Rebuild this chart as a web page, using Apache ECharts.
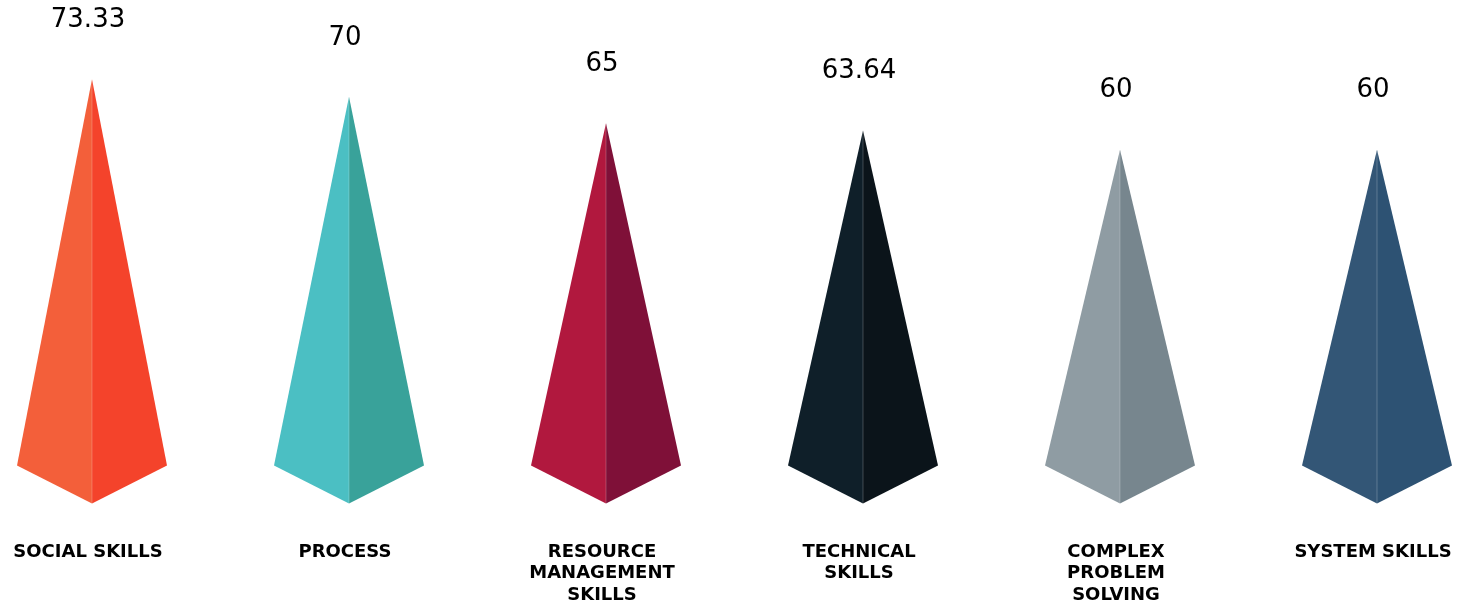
<!DOCTYPE html>
<html>
<head>
<meta charset="utf-8">
<title>Skills</title>
<script src="https://cdn.jsdelivr.net/npm/echarts@6/dist/echarts.min.js"></script>
<style>
  html, body { margin: 0; padding: 0; background: #ffffff; }
  #chart { width: 1475px; height: 606px; }
</style>
</head>
<body>
<div id="chart"></div>
<script>
// Category names as shown under each pyramid (line breaks where the label wraps)
const categories = [
  'SOCIAL SKILLS',
  'PROCESS',
  'RESOURCE\nMANAGEMENT\nSKILLS',
  'TECHNICAL\nSKILLS',
  'COMPLEX\nPROBLEM\nSOLVING',
  'SYSTEM SKILLS'
];

// Score per category
const values = [73.33, 70, 65, 63.64, 60, 60];

// Lit (left) and shaded (right) face colours for each pyramid
const leftColors  = ['#F35F3A', '#4BBFC3', '#B1183E', '#0F1F29', '#8F9CA3', '#335676'];
const rightColors = ['#F4432B', '#39A29A', '#7F1038', '#0B141A', '#77868E', '#2D5273'];

const FONT = '"DejaVu Sans", "Noto Sans", sans-serif';

const chart = echarts.init(document.getElementById('chart'), null, { renderer: 'canvas' });

function renderPyramid(params, api) {
  const i = api.value(0);
  const v = api.value(1);
  const tip = api.coord([i, v]);
  const base = api.coord([i, 0]);
  const halfW = 75;
  const cx = tip[0];
  const sideY = base[1] - 1;
  const bottomY = base[1] + 37;

  return {
    type: 'group',
    children: [
      {
        type: 'polygon',
        shape: { points: [[cx, tip[1]], [cx - halfW, sideY], [cx, bottomY]] },
        style: { fill: leftColors[i] }
      },
      {
        type: 'polygon',
        shape: { points: [[cx, tip[1]], [cx, bottomY], [cx + halfW, sideY]] },
        style: { fill: rightColors[i] }
      },
      {
        type: 'line',
        shape: { x1: cx, y1: tip[1] + 2, x2: cx, y2: bottomY },
        style: { stroke: 'rgba(255,255,255,0.22)', lineWidth: 1 }
      },
      {
        type: 'text',
        x: cx - 4,
        y: tip[1] - 59,
        style: {
          text: String(v),
          fill: '#000000',
          font: 'normal 26px ' + FONT,
          align: 'center',
          verticalAlign: 'middle'
        }
      }
    ]
  };
}

chart.setOption({
  animation: false,
  backgroundColor: '#ffffff',
  grid: { left: 92, right: 98, top: 44, bottom: 136, containLabel: false },
  xAxis: {
    type: 'category',
    data: categories,
    boundaryGap: false,
    axisLine: { show: false },
    axisTick: { show: false },
    splitLine: { show: false },
    axisLabel: {
      interval: 0,
      margin: 75,
      color: '#000000',
      fontFamily: FONT,
      fontWeight: 'bold',
      fontSize: 18,
      lineHeight: 21.5,
      align: 'center',
      padding: [0, 8, 0, 0]
    }
  },
  yAxis: {
    type: 'value',
    min: 0,
    max: 80,
    show: false,
    splitLine: { show: false }
  },
  series: [{
    type: 'custom',
    renderItem: renderPyramid,
    clip: false,
    data: values.map((v, i) => [i, v])
  }]
});
</script>
</body>
</html>
